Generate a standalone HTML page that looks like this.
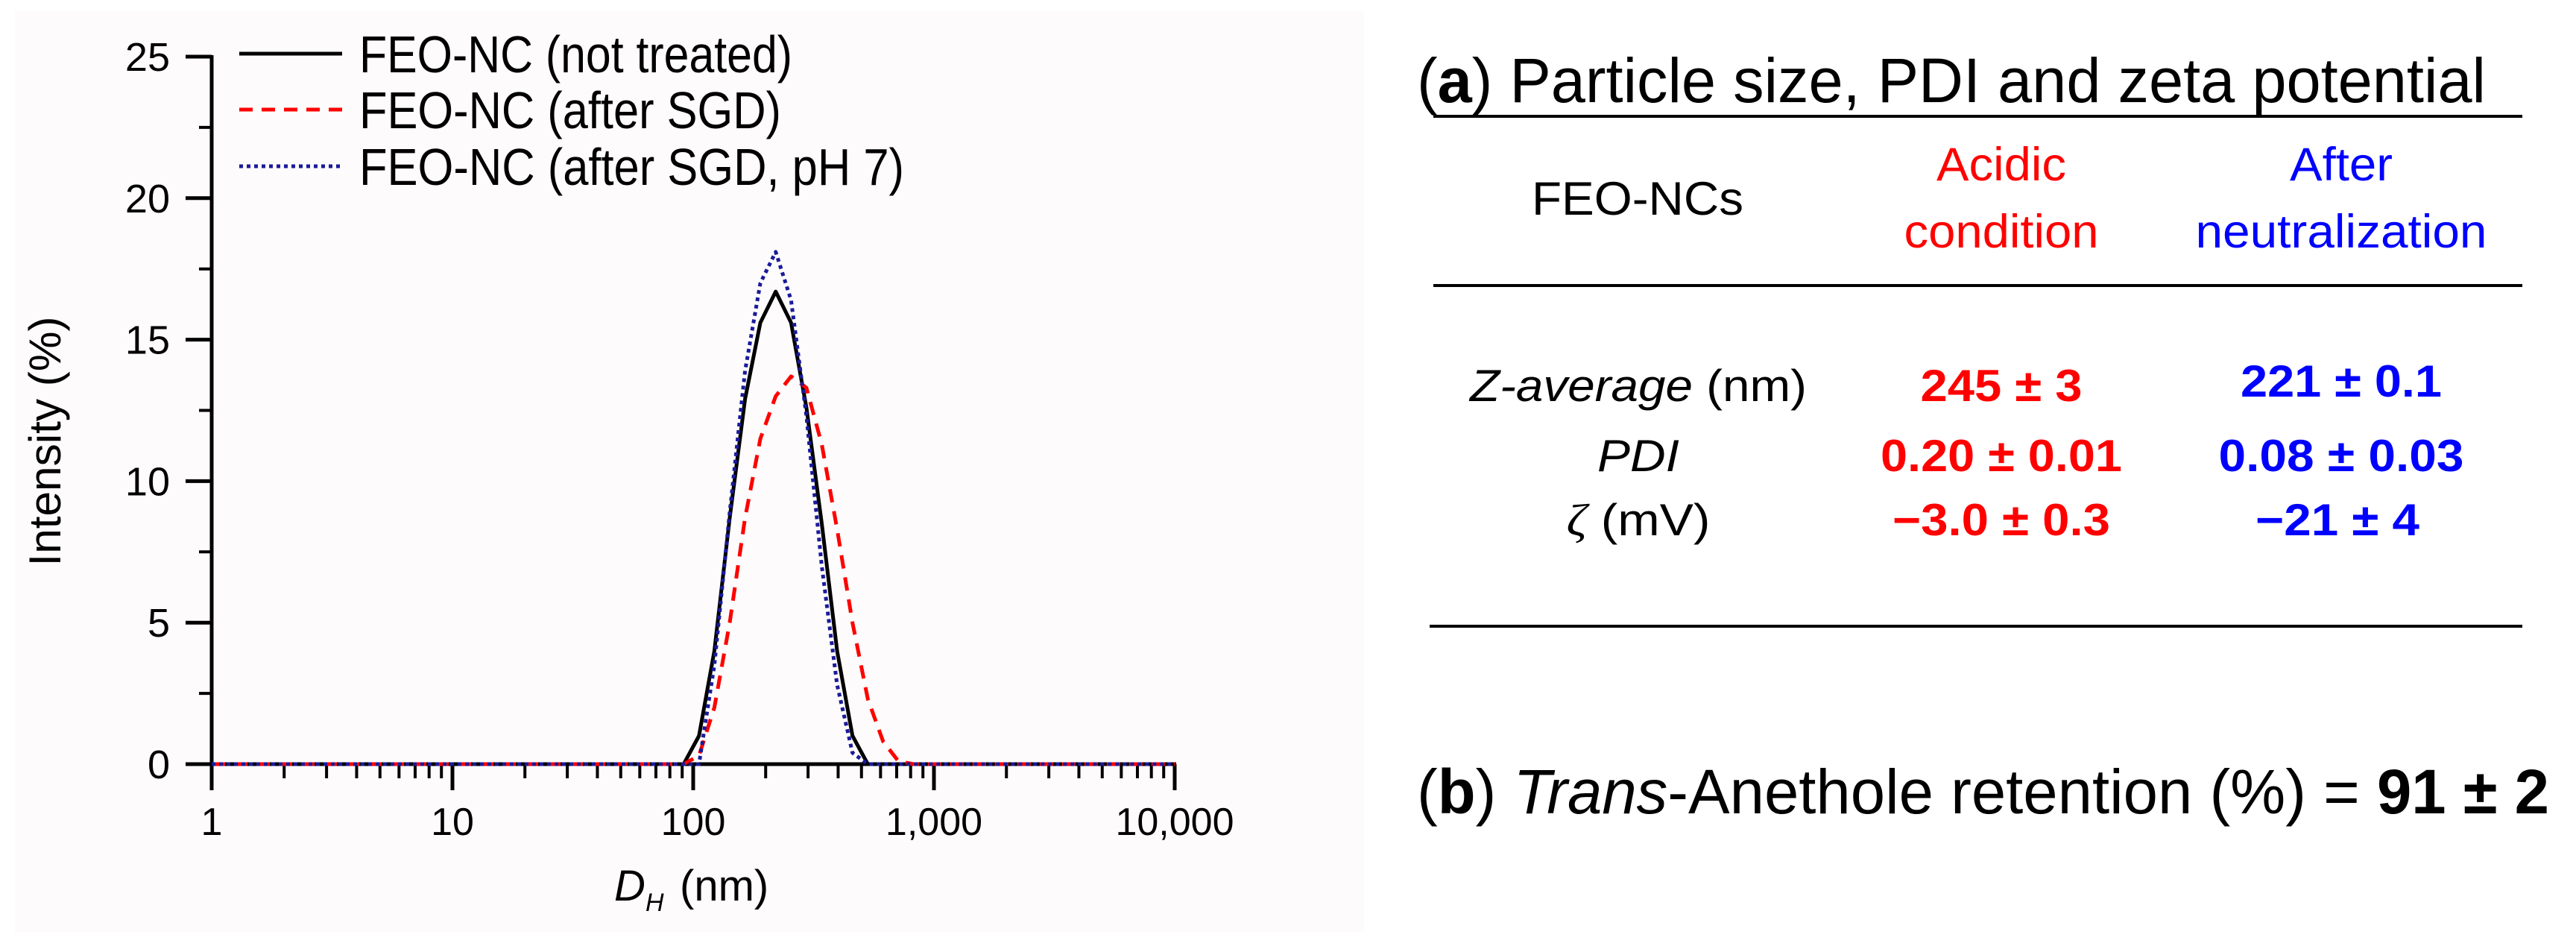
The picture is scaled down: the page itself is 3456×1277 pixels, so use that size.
<!DOCTYPE html>
<html><head><meta charset="utf-8"><style>
html,body{margin:0;padding:0;background:#fff;}
svg{display:block;}
text{font-family:"Liberation Sans",Arial,sans-serif;}
</style></head><body>
<svg id="fig" width="3456" height="1277" viewBox="0 0 3456 1277" xmlns="http://www.w3.org/2000/svg">
<rect x="20" y="15" width="1810" height="1235" fill="#fdfbfb"/>
<g id="chart"></g>
<g id="table">
  <text x="1901" y="137" font-size="84" textLength="1434" lengthAdjust="spacingAndGlyphs">(<tspan font-weight="bold">a</tspan>) Particle size, PDI and zeta potential</text>
  <line x1="1923" y1="156" x2="3384" y2="156" stroke="#000" stroke-width="4"/>
  <text x="2197" y="288" font-size="63" text-anchor="middle" textLength="284" lengthAdjust="spacingAndGlyphs">FEO-NCs</text>
  <text x="2685" y="242" font-size="63" fill="#ff0000" text-anchor="middle" textLength="174" lengthAdjust="spacingAndGlyphs">Acidic</text>
  <text x="2685" y="332" font-size="63" fill="#ff0000" text-anchor="middle" textLength="261" lengthAdjust="spacingAndGlyphs">condition</text>
  <text x="3141" y="242" font-size="63" fill="#0000ff" text-anchor="middle" textLength="138" lengthAdjust="spacingAndGlyphs">After</text>
  <text x="3141" y="332" font-size="63" fill="#0000ff" text-anchor="middle" textLength="391" lengthAdjust="spacingAndGlyphs">neutralization</text>
  <line x1="1923" y1="383" x2="3384" y2="383" stroke="#000" stroke-width="4"/>
  <text x="2198" y="538" font-size="60" text-anchor="middle" textLength="452" lengthAdjust="spacingAndGlyphs"><tspan font-style="italic">Z-average</tspan> (nm)</text>
  <text x="2198" y="632" font-size="60" font-style="italic" text-anchor="middle" textLength="110" lengthAdjust="spacingAndGlyphs">PDI</text>
  <text x="2198" y="718" font-size="60" text-anchor="middle" textLength="193" lengthAdjust="spacingAndGlyphs"><tspan font-style="italic" font-family="Liberation Serif, serif">ζ</tspan> (mV)</text>
  <text x="2685" y="538" font-size="60" font-weight="bold" fill="#ff0000" text-anchor="middle" textLength="217" lengthAdjust="spacingAndGlyphs">245 ± 3</text>
  <text x="2685" y="632" font-size="60" font-weight="bold" fill="#ff0000" text-anchor="middle" textLength="324" lengthAdjust="spacingAndGlyphs">0.20 ± 0.01</text>
  <text x="2685" y="718" font-size="60" font-weight="bold" fill="#ff0000" text-anchor="middle" textLength="292" lengthAdjust="spacingAndGlyphs">−3.0 ± 0.3</text>
  <text x="3141" y="532" font-size="60" font-weight="bold" fill="#0000ff" text-anchor="middle" textLength="270" lengthAdjust="spacingAndGlyphs">221 ± 0.1</text>
  <text x="3141" y="632" font-size="60" font-weight="bold" fill="#0000ff" text-anchor="middle" textLength="329" lengthAdjust="spacingAndGlyphs">0.08 ± 0.03</text>
  <text x="3136" y="718" font-size="60" font-weight="bold" fill="#0000ff" text-anchor="middle" textLength="220" lengthAdjust="spacingAndGlyphs">−21 ± 4</text>
  <line x1="1918" y1="840" x2="3384" y2="840" stroke="#000" stroke-width="4"/>
  <text x="1901" y="1091" font-size="84" textLength="1519" lengthAdjust="spacingAndGlyphs">(<tspan font-weight="bold">b</tspan>) <tspan font-style="italic">Trans</tspan>-Anethole retention (%) = <tspan font-weight="bold">91 ± 2</tspan></text>
</g>
</svg>
<script>
const sizesNm = [1, 91.3, 105.7, 122.4, 141.8, 164.2, 190.1, 220.2, 255.0, 295.3, 342.0, 396.1, 458.7, 531.2, 615.1, 712.4, 825.0, 10000];
const notTreated = [0, 0, 1.0, 4.0, 8.7, 12.9, 15.6, 16.7, 15.6, 12.6, 8.5, 4.0, 1.0, 0, 0, 0, 0, 0];
const afterSGD = [0, 0, 0.3, 2.0, 5.0, 8.7, 11.5, 13.0, 13.7, 13.3, 11.3, 8.3, 5.0, 2.3, 0.8, 0.1, 0, 0];
const afterSGDpH7 = [0, 0, 0, 3.5, 8.9, 13.9, 17.0, 18.1, 16.4, 12.3, 7.0, 2.8, 0.4, 0, 0, 0, 0, 0];
const yTicks = [0, 5, 10, 15, 20, 25];
const xTicks = [1, 10, 100, 1000, 10000];
const xTickLabels = ["1", "10", "100", "1,000", "10,000"];
const legendLabels = ["FEO-NC (not treated)", "FEO-NC (after SGD)", "FEO-NC (after SGD, pH 7)"];

const NS = "http://www.w3.org/2000/svg";
const X0 = 284, DEC = 323, Y0 = 1025, YPU = 37.96;
function xs(v){ return X0 + Math.log10(v) * DEC; }
function ys(v){ return Y0 - v * YPU; }
const g = document.getElementById('chart');
function mk(tag, attrs, parent){
  const e = document.createElementNS(NS, tag);
  for (const k in attrs) e.setAttribute(k, attrs[k]);
  (parent || g).appendChild(e);
  return e;
}
let el;
el = mk('line', {x1: X0, y1: ys(25) - 2, x2: X0, y2: Y0 + 35, stroke: '#000', 'stroke-width': 5});


el = mk('line', {x1: X0 - 35, y1: Y0, x2: xs(10000) + 2, y2: Y0, stroke: '#000', 'stroke-width': 5});


yTicks.forEach(function(t){
  el = mk('line', {x1: X0 - 35, y1: ys(t), x2: X0, y2: ys(t), stroke: '#000', 'stroke-width': 5});
  
  
  el = mk('text', {x: 228, y: ys(t) + 19, 'font-size': 54, 'text-anchor': 'end'});
  el.textContent = String(t);
  
  
  if (t < 25) {
    el = mk('line', {x1: X0 - 17, y1: ys(t + 2.5), x2: X0, y2: ys(t + 2.5), stroke: '#000', 'stroke-width': 4});
    
    
  }
});
xTicks.forEach(function(t, i){
  el = mk('line', {x1: xs(t), y1: Y0, x2: xs(t), y2: Y0 + 35, stroke: '#000', 'stroke-width': 5});
  
  
  el = mk('text', {x: xs(t), y: 1120, 'font-size': 52, 'text-anchor': 'middle'});
  el.textContent = xTickLabels[i];
  
  
  if (i < xTicks.length - 1) {
    for (let m = 2; m <= 9; m++) {
      el = mk('line', {x1: xs(t * m), y1: Y0, x2: xs(t * m), y2: Y0 + 19, stroke: '#000', 'stroke-width': 4});
      
      
    }
  }
});
el = mk('text', {x: 824, y: 1208, 'font-size': 58, 'font-style': 'italic'});
el.textContent = 'D';


el = mk('text', {x: 866, y: 1222, 'font-size': 34, 'font-style': 'italic'});
el.textContent = 'H';


el = mk('text', {x: 912, y: 1208, 'font-size': 58});
el.textContent = '(nm)';


el = mk('text', {x: 0, y: 0, 'font-size': 60, 'text-anchor': 'middle', transform: 'translate(81,592) rotate(-90)', textLength: 335, lengthAdjust: 'spacingAndGlyphs'});
el.textContent = 'Intensity (%)';


const series = [
  {vals: notTreated, color: '#000000', dash: '', w: 5, name: 'series-not-treated'},
  {vals: afterSGD, color: '#ff0000', dash: '18 12', w: 5, name: 'series-after-sgd'},
  {vals: afterSGDpH7, color: '#1a1a9a', dash: '5 5', w: 5, name: 'series-after-sgd-ph7'}
];
const legendY = [72, 147, 223];
const legendW = [581, 566, 731];
series.forEach(function(s, i){
  const pts = sizesNm.map(function(d, j){ return xs(d).toFixed(1) + ',' + ys(s.vals[j]).toFixed(1); }).join(' ');
  el = mk('polyline', {points: pts, fill: 'none', stroke: s.color, 'stroke-width': s.w, 'stroke-dasharray': s.dash, 'stroke-linejoin': 'round'});
  
  
  el = mk('line', {x1: 321, y1: legendY[i], x2: 459, y2: legendY[i], stroke: s.color, 'stroke-width': s.w, 'stroke-dasharray': s.dash});
  
  
  el = mk('text', {x: 482, y: legendY[i] + 25, 'font-size': 70, textLength: legendW[i], lengthAdjust: 'spacingAndGlyphs'});
  el.textContent = legendLabels[i];
  
  
});
</script>
</body></html>
